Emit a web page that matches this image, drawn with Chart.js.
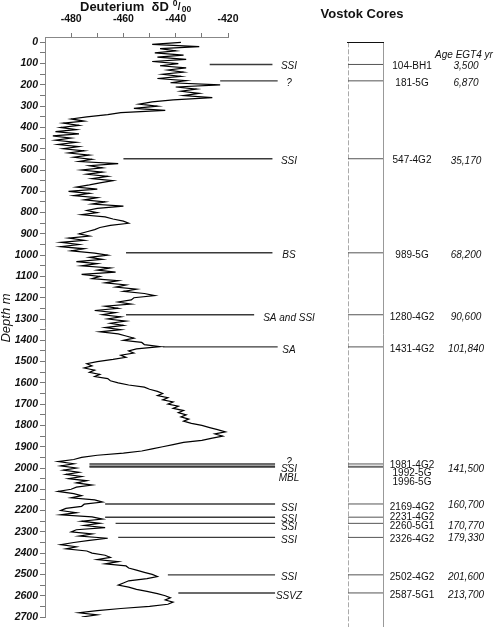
<!DOCTYPE html>
<html>
<head>
<meta charset="utf-8">
<script src="https://cdn.jsdelivr.net/npm/chart.js@4.4.1/dist/chart.umd.min.js"></script>
<style>
  html, body { margin: 0; padding: 0; background: #fff; }
  #wrap { position: relative; width: 502px; height: 627px; }
</style>
</head>
<body>
<div id="wrap"><canvas id="vostokChart"></canvas></div>
<script>
// deuterium profile, every 10 m
const depths = [
  0, 10, 20, 30, 40, 50, 60, 70, 80, 90,
  100, 110, 120, 130, 140, 150, 160, 170, 180, 190,
  200, 210, 220, 230, 240, 250, 260, 270, 280, 290,
  300, 310, 320, 330, 340, 350, 360, 370, 380, 390,
  400, 410, 420, 430, 440, 450, 460, 470, 480, 490,
  500, 510, 520, 530, 540, 550, 560, 570, 580, 590,
  600, 610, 620, 630, 640, 650, 660, 670, 680, 690,
  700, 710, 720, 730, 740, 750, 760, 770, 780, 790,
  800, 810, 820, 830, 840, 850, 860, 870, 880, 890,
  900, 910, 920, 930, 940, 950, 960, 970, 980, 990,
  1000, 1010, 1020, 1030, 1040, 1050, 1060, 1070, 1080, 1090,
  1100, 1110, 1120, 1130, 1140, 1150, 1160, 1170, 1180, 1190,
  1200, 1210, 1220, 1230, 1240, 1250, 1260, 1270, 1280, 1290,
  1300, 1310, 1320, 1330, 1340, 1350, 1360, 1370, 1380, 1390,
  1400, 1410, 1420, 1430, 1440, 1450, 1460, 1470, 1480, 1490,
  1500, 1510, 1520, 1530, 1540, 1550, 1560, 1570, 1580, 1590,
  1600, 1610, 1620, 1630, 1640, 1650, 1660, 1670, 1680, 1690,
  1700, 1710, 1720, 1730, 1740, 1750, 1760, 1770, 1780, 1790,
  1800, 1810, 1820, 1830, 1840, 1850, 1860, 1870, 1880, 1890,
  1900, 1910, 1920, 1930, 1940, 1950, 1960, 1970, 1980, 1990,
  2000, 2010, 2020, 2030, 2040, 2050, 2060, 2070, 2080, 2090,
  2100, 2110, 2120, 2130, 2140, 2150, 2160, 2170, 2180, 2190,
  2200, 2210, 2220, 2230, 2240, 2250, 2260, 2270, 2280, 2290,
  2300, 2310, 2320, 2330, 2340, 2350, 2360, 2370, 2380, 2390,
  2400, 2410, 2420, 2430, 2440, 2450, 2460, 2470, 2480, 2490,
  2500, 2510, 2520, 2530, 2540, 2550, 2560, 2570, 2580, 2590,
  2600, 2610, 2620, 2630, 2640, 2650, 2660, 2670, 2680, 2690,
  2700
];
const deltaD = [
  -438, -449, -431, -446, -440, -448, -437, -447, -436, -449,
  -439, -446, -436, -443, -437, -445, -438, -447, -436, -442,
  -423, -440, -432, -438, -431, -437, -426, -441, -449, -454,
  -447, -456, -444, -461, -466, -474, -480, -475, -483, -477,
  -484, -478, -486, -477, -487, -480, -486, -478, -485, -477,
  -483, -475, -481, -473, -479, -472, -477, -462, -473, -468,
  -476, -468, -474, -466, -472, -464, -469, -473, -478, -470,
  -481, -473, -479, -470, -475, -467, -472, -460, -470, -474,
  -470, -476, -467, -464, -460, -458, -465, -469, -471, -474,
  -477, -473, -481, -475, -484, -477, -484, -475, -480, -471,
  -466, -473, -468, -478, -470, -476, -465, -470, -463, -476,
  -469, -472, -462, -467, -459, -463, -455, -460, -452, -448,
  -456, -457, -462, -457, -467, -462, -471, -463, -468, -461,
  -466, -459, -465, -460, -467, -461, -469, -462, -459, -456,
  -460, -453, -452, -446, -455, -458, -456, -461, -459, -464,
  -470, -474, -472, -475, -471, -473, -469, -471, -466, -465,
  -462, -458, -452, -450, -447, -445, -447, -443, -445, -441,
  -443, -439, -441, -437, -439, -436, -438, -435, -437, -434,
  -430, -427, -424, -421, -425, -422, -426, -430, -437, -441,
  -445, -449, -453, -460, -470, -476, -479, -485, -479, -484,
  -478, -483, -477, -482, -476, -481, -474, -478, -472, -478,
  -480, -485, -479, -476, -480, -471, -468, -475, -476, -482,
  -484, -478, -484, -472, -468, -476, -469, -475, -467, -478,
  -480, -472, -477, -466, -473, -479, -484, -478, -482, -474,
  -472, -467, -465, -470, -462, -467, -459, -458, -455, -452,
  -449, -447, -451, -458, -460, -462, -458, -455, -451, -447,
  -444, -442, -444, -441, -443, -450, -461, -470, -477, -470,
  -476
];

const xTickLabels = [-480, -460, -440, -420];
const xTickMarks = [-480, -470, -460, -450, -440, -430, -420];

// events marked on the profile and the matching cores
const markerDepths = [104, 181, 547, 989, 1280, 1431, 1981, 1992, 1996, 2169, 2231, 2260, 2326, 2502, 2587];
const markerStart = [-427, -423, -460, -459, -459, -445, -473, -473, -473, -467, -467, -463, -462, -443, -439];
const markerEnd = [-403, -401, -403, -403, -410, -401, -402, -402, -402, -402, -402, -402, -402, -402, -402];
const markerLabels = ['SSI', '?', 'SSI', 'BS', 'SA and SSI', 'SA', '?', 'SSI', 'MBL', 'SSI', 'SSI', 'SSI', 'SSI', 'SSI', 'SSVZ'];
const coreNames = ['104-BH1', '181-5G', '547-4G2', '989-5G', '1280-4G2', '1431-4G2', '1981-4G2', '1992-5G', '1996-5G',
  '2169-4G2', '2231-4G2', '2260-5G1', '2326-4G2', '2502-4G2', '2587-5G1'];
const coreAges = ['3,500', '6,870', '35,170', '68,200', '90,600', '101,840', '141,500', '', '',
  '160,700', '', '170,770', '179,330', '201,600', '213,700'];

// text nudges (px) so the crowded labels near 2000 m don't overlap
const markerTextShift = [2, 2, 2, 2, 3, 3, -2, 3, 11, 4, 2, 4, 3, 2, 3];
const coreTextShift = [2, 2, 2, 2, 2, 2, 1, 7, 15, 3, 0, 3, 2, 2, 2];
const ageTextShift = [2, 2, 2, 2, 2, 2, 5, 0, 0, 1, 0, 3, 1, 2, 2];

const FONT = '"Liberation Sans", Arial, sans-serif';
const fnt = (size, weight = 'normal', style = 'normal') => `${style} ${weight} ${size}px ${FONT}`;

const depthTicks = [];
for (let d = 0; d <= 2700; d += 50) depthTicks.push(d);

const sidePanel = {
  id: 'sidePanel',
  afterDraw(chart) {
    const ctx = chart.ctx;
    const ys = chart.scales.y;
    ctx.save();
    ctx.fillStyle = '#111';
    ctx.textBaseline = 'middle';

    // titles
    ctx.textAlign = 'left';
    ctx.font = fnt(13, 'bold');
    ctx.fillText('Deuterium  δD', 80, 7);
    let tx = 80 + ctx.measureText('Deuterium  δD').width + 4;
    ctx.font = fnt(8.5, 'bold');
    ctx.fillText('0', tx, 4);
    ctx.font = fnt(10, 'bold');
    ctx.fillText('/', tx + 5, 7);
    ctx.font = fnt(8.5, 'bold');
    ctx.fillText('00', tx + 9, 10);

    ctx.textAlign = 'center';
    ctx.font = fnt(13, 'bold');
    ctx.fillText('Vostok Cores', 362, 14);

    ctx.font = fnt(10, 'normal', 'italic');
    ctx.fillText('Age EGT4 yr', 464, 55);

    // depth axis title
    ctx.save();
    ctx.translate(6, 318);
    ctx.rotate(-Math.PI / 2);
    ctx.font = fnt(13, 'normal', 'italic');
    ctx.fillText('Depth m', 0, 0);
    ctx.restore();

    // core column
    const top = ys.getPixelForValue(0);
    ctx.lineWidth = 1;
    ctx.strokeStyle = '#aaa';
    ctx.setLineDash([5, 2]);
    ctx.beginPath();
    ctx.moveTo(348.5, top);
    ctx.lineTo(348.5, 627);
    ctx.stroke();
    ctx.setLineDash([]);
    ctx.strokeStyle = '#999';
    ctx.beginPath();
    ctx.moveTo(383.5, top);
    ctx.lineTo(383.5, 627);
    ctx.stroke();
    ctx.strokeStyle = '#111';
    ctx.beginPath();
    ctx.moveTo(347, Math.round(top) + 0.5);
    ctx.lineTo(384, Math.round(top) + 0.5);
    ctx.stroke();

    ctx.strokeStyle = '#555';
    markerDepths.forEach((d) => {
      const py = ys.getPixelForValue(d);
      ctx.beginPath();
      ctx.moveTo(348, py);
      ctx.lineTo(383, py);
      ctx.stroke();
    });

    // labels
    markerDepths.forEach((d, i) => {
      const py = ys.getPixelForValue(d);
      ctx.font = fnt(10, 'normal', 'italic');
      ctx.fillText(markerLabels[i], 289, py + markerTextShift[i]);
      ctx.font = fnt(10);
      ctx.fillText(coreNames[i], 412, py + coreTextShift[i]);
      if (coreAges[i]) {
        ctx.font = fnt(10, 'normal', 'italic');
        ctx.fillText(coreAges[i], 466, py + ageTextShift[i]);
      }
    });
    ctx.restore();
  }
};

const datasets = [{
  data: depths.map((d, i) => ({ x: deltaD[i], y: d })),
  showLine: true,
  borderColor: '#000',
  borderWidth: 1.2,
  pointRadius: 0,
  tension: 0,
}];
markerDepths.forEach((d, i) => {
  datasets.push({
    data: [{ x: markerStart[i], y: d }, { x: markerEnd[i], y: d }],
    showLine: true,
    borderColor: '#3a3a3a',
    borderWidth: 1.4,
    pointRadius: 0,
    clip: false,
  });
});

const ctx = document.getElementById('vostokChart').getContext('2d');
const vostokChart = new Chart(ctx, {
  type: 'scatter',
  data: { datasets },
  options: {
    responsive: true,
    maintainAspectRatio: false,
    animation: false,
    layout: { padding: { top: 0, left: 0, right: 274, bottom: 10 } },
    plugins: {
      legend: { display: false },
      tooltip: { enabled: false },
    },
    scales: {
      x: {
        type: 'linear',
        position: 'top',
        min: -490,
        max: -420,
        afterBuildTicks: (s) => { s.ticks = xTickMarks.map(v => ({ value: v })); },
        afterFit: (s) => { s.height = 37; },
        ticks: {
          callback: (v) => xTickLabels.includes(v) ? String(v) : '',
          font: { family: FONT, size: 10.5, weight: 'bold' },
          color: '#111',
          padding: 8,
          maxRotation: 0,
          autoSkip: false,
        },
        grid: { drawOnChartArea: false, tickLength: 4, color: '#777' },
        border: { color: '#888' },
      },
      y: {
        type: 'linear',
        reverse: true,
        min: -25,
        max: 2700,
        afterBuildTicks: (s) => { s.ticks = depthTicks.map(v => ({ value: v })); },
        afterFit: (s) => { s.width = 45; },
        ticks: {
          callback: (v) => v % 100 === 0 ? String(v) : '',
          font: { family: FONT, size: 10.5, weight: 'bold', style: 'italic' },
          color: '#111',
          padding: 2,
          autoSkip: false,
        },
        grid: { drawOnChartArea: false, tickLength: 5, color: '#777' },
        border: { color: '#888' },
      },
    },
  },
  plugins: [sidePanel],
});
</script>
</body>
</html>
